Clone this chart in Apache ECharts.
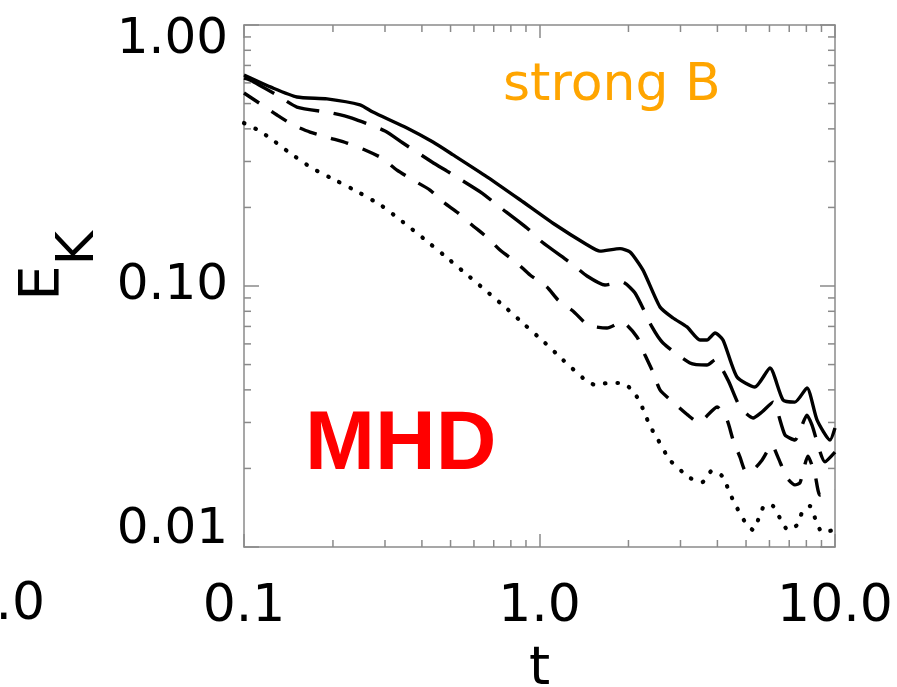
<!DOCTYPE html>
<html><head><meta charset="utf-8">
<script src="https://cdn.jsdelivr.net/npm/echarts@6/dist/echarts.min.js"></script>
<style>html,body{margin:0;padding:0;background:#fff;}#c{width:897px;height:687px;}</style>
</head><body><div id="c"></div>
<script>
// ---- data ----
const xTickLabels = ['0.1', '1.0', '10.0'];
const yTickLabels = ['0.01', '0.10', '1.00'];
const xMinorTicks = [0.2,0.3,0.4,0.5,0.6,0.7,0.8,0.9,2,3,4,5,6,7,8,9];
const yMinorTicks = [0.02,0.03,0.04,0.05,0.06,0.07,0.08,0.09,0.2,0.3,0.4,0.5,0.6,0.7,0.8,0.9];

const tSolid = [0.100,0.125,0.151,0.191,0.247,0.273,0.356,0.436,0.510,0.664,0.859,1.111,1.448,1.602,1.873,2.025,2.240,2.557,2.830,3.156,3.492,3.688,3.926,4.178,4.660,5.36,6.026,6.67,7.32,8.04,8.69,9.62,10.0];
const eSolid = [0.643,0.574,0.530,0.521,0.494,0.464,0.403,0.356,0.318,0.262,0.214,0.174,0.144,0.136,0.139,0.135,0.115,0.0831,0.0754,0.0697,0.0621,0.0621,0.0661,0.0621,0.0448,0.0410,0.0485,0.0366,0.0359,0.0407,0.0307,0.0257,0.0286];

const tLong = [0.100,0.1048,0.1293,0.151,0.1985,0.232,0.300,0.345,0.4327,0.498,0.639,0.718,0.907,1.020,1.288,1.448,1.666,1.902,2.105,2.403,2.618,3.23,3.688,3.926,4.345,4.77,5.28,5.66,6.17,6.77,7.32,8.04,8.36,9.25,10.0];
const eLong = [0.626,0.616,0.539,0.485,0.460,0.440,0.3925,0.353,0.2986,0.271,0.227,0.2044,0.1668,0.1474,0.1215,0.1092,0.1009,0.1036,0.0940,0.0697,0.0605,0.0507,0.0498,0.0521,0.0436,0.0344,0.0312,0.0329,0.0359,0.0269,0.0257,0.0320,0.0293,0.0212,0.0231];

const tShort = [0.100,0.1151,0.1293,0.1465,0.1673,0.1954,0.2232,0.2568,0.2931,0.3294,0.373,0.426,0.4714,0.530,0.591,0.669,0.735,0.839,0.929,1.060,1.155,1.298,1.459,1.692,1.902,2.138,2.275,2.42,2.557,2.830,3.18,3.44,3.575,3.99,4.31,4.52,4.77,5.00,5.28,5.66,6.12,6.41,6.88,7.32,7.61,8.10,8.56,8.90,9.62,10.0];
const eShort = [0.549,0.494,0.452,0.414,0.389,0.369,0.353,0.332,0.309,0.278,0.2547,0.2332,0.2099,0.1905,0.1713,0.1527,0.1374,0.1225,0.1102,0.0991,0.0884,0.0802,0.0709,0.0690,0.0728,0.0638,0.0544,0.0468,0.0400,0.0359,0.0320,0.0301,0.0307,0.0344,0.0307,0.0257,0.0221,0.0194,0.0197,0.0215,0.0246,0.0221,0.0184,0.0173,0.0176,0.0223,0.0189,0.0158,0.0161,0.0165];

const tDot = [0.100,0.1115,0.1225,0.1431,0.1699,0.2064,0.247,0.2931,0.345,0.4035,0.479,0.5596,0.654,0.764,0.893,1.044,1.201,1.404,1.541,1.705,1.902,2.056,2.188,2.365,2.498,2.765,3.23,3.55,3.835,4.15,4.52,4.96,5.28,5.80,6.17,6.51,6.93,7.44,7.73,8.23,8.56,9.04,10.0];
const eDot = [0.421,0.396,0.369,0.323,0.283,0.2526,0.227,0.2025,0.1759,0.1527,0.1302,0.1122,0.0966,0.0831,0.0709,0.0605,0.0521,0.0444,0.0418,0.0425,0.0425,0.0400,0.0359,0.0291,0.0262,0.0215,0.0184,0.0177,0.0196,0.0187,0.0151,0.01247,0.01162,0.01448,0.01436,0.01291,0.01162,0.01214,0.01350,0.01436,0.01291,0.01142,0.01162];

// ---- chart ----
const zip = (a, b) => a.map((v, i) => [v, b[i]]);
const AX = '#8a8a8a';
const FONT = 'DejaVu Sans';
const chart = echarts.init(document.getElementById('c'), null, {renderer: 'canvas'});

function baseX(extra) {
  return Object.assign({
    type: 'log', logBase: 10, min: 0.1, max: 10,
    axisLine: {show: true, onZero: false, lineStyle: {color: AX, width: 1.5}},
    axisTick: {show: true, inside: true, length: 13, lineStyle: {color: AX, width: 1.5}},
    minorTick: {show: false}, splitLine: {show: false}, minorSplitLine: {show: false}
  }, extra);
}
function baseY(extra) {
  return Object.assign({
    type: 'log', logBase: 10, min: 0.01, max: 1,
    axisLine: {show: true, onZero: false, lineStyle: {color: AX, width: 1.5}},
    axisTick: {show: true, inside: true, length: 15, lineStyle: {color: AX, width: 1.5}},
    minorTick: {show: false}, splitLine: {show: false}, minorSplitLine: {show: false}
  }, extra);
}

const MINOR = 7;
const option = {
  animation: false,
  backgroundColor: '#ffffff',
  grid: {left: 244, top: 25, right: 62, bottom: 140, containLabel: false, outerBoundsMode: 'none'},
  xAxis: [
    baseX({position: 'bottom',
      name: 't', nameLocation: 'middle', nameGap: 96,
      nameTextStyle: {fontFamily: FONT, fontSize: 54, color: '#000'},
      axisLabel: {show: true, margin: 34, fontFamily: FONT, fontSize: 52, color: '#000',
        showMinLabel: true, showMaxLabel: true,
        formatter: v => xTickLabels[Math.round(Math.log10(v)) + 1]}}),
    baseX({position: 'top', axisLabel: {show: false}})
  ],
  yAxis: [
    baseY({position: 'left',
      name: '{e|E}{k|K}', nameLocation: 'middle', nameRotate: 90, nameGap: 134,
      nameTextStyle: {color: '#000', padding: [0, 0, 0, 40], rich: {
        e: {fontFamily: FONT, fontSize: 56, color: '#000', verticalAlign: 'top'},
        k: {fontFamily: FONT, fontSize: 52, color: '#000', verticalAlign: 'bottom', padding: [38, 0, 0, 0]}
      }},
      axisLabel: {show: true, margin: 16, color: '#000', showMinLabel: true, showMaxLabel: true,
        formatter: v => {
          const i = Math.round(Math.log10(v)) + 2;
          const s = yTickLabels[i];
          return i === 2 ? '{t|' + s + '}' : (i === 0 ? '{b|' + s + '}' : '{m|' + s + '}');
        },
        rich: {
          t: {fontFamily: FONT, fontSize: 50, color: '#000', padding: [30, 0, 0, 0]},
          m: {fontFamily: FONT, fontSize: 50, color: '#000'},
          b: {fontFamily: FONT, fontSize: 50, color: '#000', padding: [0, 0, 34, 0]}
        }}}),
    baseY({position: 'right', axisLabel: {show: false}})
  ],
  graphic: [
    {type: 'text', x: 503, y: 86, silent: true,
      style: {text: 'strong B', fontFamily: FONT, fontSize: 52, fill: '#FFA500', textVerticalAlign: 'middle', textAlign: 'left'}},
    {type: 'text', x: 305, y: 446, silent: true,
      style: {text: 'MHD', fontFamily: 'Liberation Sans', fontWeight: 'bold', fontSize: 84, fill: '#FF0000', textVerticalAlign: 'middle', textAlign: 'left'}},
    {type: 'text', x: 45, y: 605, silent: true,
      style: {text: '10.0', fontFamily: FONT, fontSize: 52, fill: '#000', textVerticalAlign: 'middle', textAlign: 'right'}}
  ],
  series: [
    {type: 'custom', coordinateSystem: 'cartesian2d', silent: true, z: 5,
      data: xMinorTicks.map(v => [v, 0.1]),
      renderItem: (params, api) => {
        const cs = params.coordSys;
        const px = api.coord([api.value(0), 0.1])[0];
        const st = {stroke: AX, lineWidth: 1.5};
        return {type: 'group', children: [
          {type: 'line', shape: {x1: px, y1: cs.y + cs.height, x2: px, y2: cs.y + cs.height - MINOR}, style: st},
          {type: 'line', shape: {x1: px, y1: cs.y, x2: px, y2: cs.y + MINOR}, style: st}
        ]};
      }},
    {type: 'custom', coordinateSystem: 'cartesian2d', silent: true, z: 5,
      data: yMinorTicks.map(v => [1, v]),
      renderItem: (params, api) => {
        const cs = params.coordSys;
        const py = api.coord([1, api.value(1)])[1];
        const st = {stroke: AX, lineWidth: 1.5};
        return {type: 'group', children: [
          {type: 'line', shape: {x1: cs.x, y1: py, x2: cs.x + MINOR, y2: py}, style: st},
          {type: 'line', shape: {x1: cs.x + cs.width, y1: py, x2: cs.x + cs.width - MINOR, y2: py}, style: st}
        ]};
      }},
    {name: 'solid', type: 'line', data: zip(tSolid, eSolid), showSymbol: false, smooth: 0.2,
      lineStyle: {color: '#000', width: 3.4, type: 'solid'}},
    {name: 'long', type: 'line', data: zip(tLong, eLong), showSymbol: false, smooth: 0.2,
      lineStyle: {color: '#000', width: 3.4, type: [34, 15]}},
    {name: 'short', type: 'line', data: zip(tShort, eShort), showSymbol: false, smooth: 0.2,
      lineStyle: {color: '#000', width: 3.4, type: [18, 15]}},
    {name: 'dot', type: 'line', data: zip(tDot, eDot), showSymbol: false, smooth: 0.2,
      lineStyle: {color: '#000', width: 4.2, type: [0.5, 12], cap: 'round'}}
  ]
};
chart.setOption(option);
</script></body></html>
